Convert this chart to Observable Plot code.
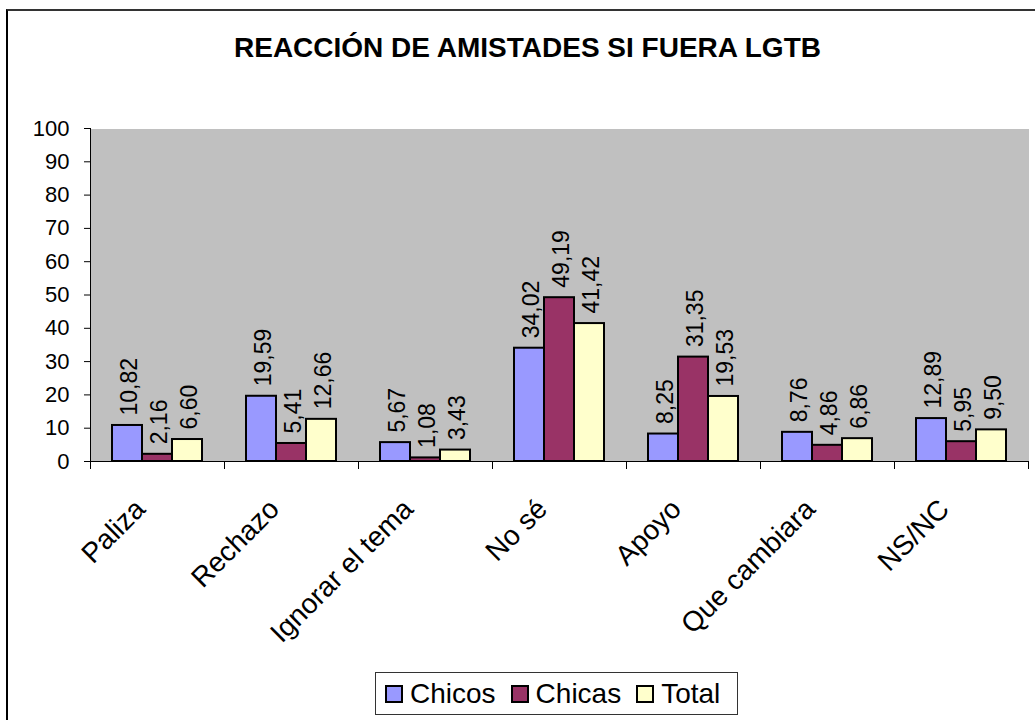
<!DOCTYPE html>
<html>
<head>
<meta charset="utf-8">
<script src="https://cdn.jsdelivr.net/npm/d3@7"></script>
<script src="https://cdn.jsdelivr.net/npm/@observablehq/plot@0.6"></script>
<style>
  body { margin: 0; background: #fff; font-family: "Liberation Sans", Arial, sans-serif; }
  #border { position: absolute; left: 6px; top: 9px; width: 1200px; height: 900px; border-left: 2px solid #000; border-top: 2px solid #333; }
  #title { position: absolute; left: 0; width: 1055px; top: 34px; line-height: 28px; text-align: center; font-weight: bold; font-size: 28px; color: #000; }
  #chart { position: absolute; left: 0; top: 0; }
  #legend { position: absolute; left: 375px; top: 672px; border: 1px solid #333; background: #fff;
            display: flex; align-items: center; justify-content: flex-start; padding-left: 9px; box-sizing: border-box; width: 363px; height: 43px;
            gap: 15px; font-size: 28px; color: #000; }
  .item { display: flex; align-items: center; gap: 7px; }
  .sw { width: 14px; height: 14px; border: 2px solid #000; display: inline-block; }
</style>
</head>
<body>
<div id="border"></div>
<div id="chart"></div>
<div id="title">REACCIÓN DE AMISTADES SI FUERA LGTB</div>
<div id="legend"></div>
<script>
const categories = ["Paliza", "Rechazo", "Ignorar el tema", "No sé", "Apoyo", "Que cambiara", "NS/NC"];
const series = ["Chicos", "Chicas", "Total"];
const chicos = [10.82, 19.59, 5.67, 34.02, 8.25, 8.76, 12.89];
const chicas = [2.16, 5.41, 1.08, 49.19, 31.35, 4.86, 5.95];
const total = [6.60, 12.66, 3.43, 41.42, 19.53, 6.86, 9.50];
const colors = ["#9999ff", "#993366", "#ffffcc"];
const yTicks = [0, 10, 20, 30, 40, 50, 60, 70, 80, 90, 100];

const valuesBySeries = [chicos, chicas, total];
const rows = [];
categories.forEach((c, i) => {
  series.forEach((s, j) => rows.push({cat: c, series: s, value: valuesBySeries[j][i]}));
});
const fmt = v => d3.format(".2f")(v).replace(".", ",");

const W = 1035, H = 660, mT = 128, mB = 199, mL = 90, mR = 7;
const plotH = H - mT - mB;

const chart = Plot.plot({
  width: W, height: H,
  marginTop: mT, marginBottom: mB, marginLeft: mL, marginRight: mR,
  style: {fontFamily: "'Liberation Sans', Arial, sans-serif", color: "#000", background: "transparent", overflow: "visible"},
  fx: {domain: categories, padding: 0, label: null},
  x: {domain: series, paddingInner: 0, paddingOuter: 0.733, axis: null},
  y: {domain: [0, 100], axis: null},
  color: {domain: series, range: colors},
  marks: [
    Plot.frame({fill: "#c0c0c0", stroke: "none", shapeRendering: "crispEdges"}),
    Plot.barY(rows, {fx: "cat", x: "series", y: "value", fill: "series", stroke: "#000", strokeWidth: 2}),
    Plot.ruleY([0], {stroke: "#000", strokeWidth: 1}),
    Plot.frame({anchor: "left", facetAnchor: "left", stroke: "#000"}),
    Plot.frame({anchor: "left", stroke: "#000", insetTop: plotH, insetBottom: -7}),
    Plot.frame({anchor: "right", facetAnchor: "right", stroke: "#000", insetTop: plotH, insetBottom: -7}),
    Plot.text(rows, {fx: "cat", x: "series", y: "value", text: d => fmt(d.value), rotate: -90, textAnchor: "start", dy: -10, dx: 2, fontSize: 23, fill: "#000"}),
    Plot.axisY({ticks: yTicks, tickSize: 6, tickPadding: 15, fontSize: 22, label: null}),
    Plot.axisFx({anchor: "bottom", tickRotate: -45, tickSize: 0, tickPadding: 43, dx: -17, fontSize: 28, label: null})
  ]
});
document.getElementById("chart").appendChild(chart);

const legend = document.getElementById("legend");
series.forEach((s, i) => {
  const item = document.createElement("span");
  item.className = "item";
  const sw = document.createElement("span");
  sw.className = "sw";
  sw.style.background = colors[i];
  item.appendChild(sw);
  item.appendChild(document.createTextNode(s));
  legend.appendChild(item);
});
</script>
</body>
</html>
